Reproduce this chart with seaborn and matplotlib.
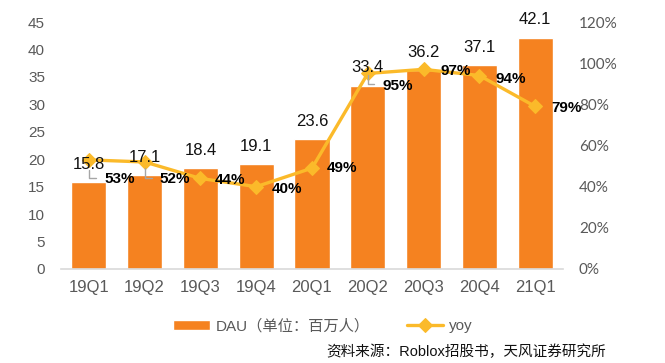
import numpy as np
import pandas as pd
import matplotlib
matplotlib.use("Agg")
import matplotlib.pyplot as plt
import matplotlib.transforms as mtransforms
from matplotlib.lines import Line2D
import seaborn as sns

quarters = ["19Q1", "19Q2", "19Q3", "19Q4", "20Q1", "20Q2", "20Q3", "20Q4", "21Q1"]
dau = [15.8, 17.1, 18.4, 19.1, 23.6, 33.4, 36.2, 37.1, 42.1]
yoy = [0.53, 0.52, 0.44, 0.40, 0.49, 0.95, 0.97, 0.94, 0.79]
yoy_labels = ["53%", "52%", "44%", "40%", "49%", "95%", "97%", "94%", "79%"]
left_ticks = [0, 5, 10, 15, 20, 25, 30, 35, 40, 45]
right_ticks = [0, 0.2, 0.4, 0.6, 0.8, 1.0, 1.2]
right_tick_labels = ["0%", "20%", "40%", "60%", "80%", "100%", "120%"]
bar_legend = "DAU（单位：百万人）"
line_legend = "yoy"
source = "资料来源：Roblox招股书，天风证券研究所"

sns.set_theme(style="white")
plt.rcParams["font.family"] = ["Liberation Sans", "Noto Sans CJK SC", "DejaVu Sans"]

BAR = "#F58220"
LINE = "#FBBA2A"
GRAY = "#595959"

fig = plt.figure(figsize=(6.65, 3.63), dpi=100)
ax = fig.add_axes([61 / 665, 1 - 269 / 363, (563 - 61) / 665, (269 - 22) / 363])

df = pd.DataFrame({"q": quarters, "dau": dau})
sns.barplot(data=df, x="q", y="dau", ax=ax, color=BAR, width=0.63, saturation=1,
            label=bar_legend, zorder=2)
if ax.get_legend() is not None:
    ax.get_legend().remove()
ax.set_ylim(0, 45)
ax.set_xlim(-0.5, len(quarters) - 0.5)
ax.set_yticks(left_ticks)
ax.set_xlabel("")
ax.set_ylabel("")
for s in ["top", "right", "left"]:
    ax.spines[s].set_visible(False)
ax.spines["bottom"].set_color("#D9D9D9")
ax.spines["bottom"].set_linewidth(1.2)
ax.tick_params(axis="y", labelsize=11, labelcolor=GRAY, length=0, pad=11.5)
ax.tick_params(axis="x", labelsize=12, labelcolor=GRAY, length=0, pad=8)

ax2 = ax.twinx()
pos = np.arange(len(quarters))
sns.lineplot(x=pos, y=yoy, ax=ax2, color=LINE, linewidth=2.4, marker="D",
             markersize=7, markeredgecolor=LINE, label=line_legend, legend=False, zorder=3)
ax2.set_ylim(0, 1.2)
ax2.set_xlim(-0.5, len(quarters) - 0.5)
ax2.set_yticks(right_ticks)
ax2.set_yticklabels(right_tick_labels, family=["Lato", "DejaVu Sans"])
ax2.set_ylabel("")
for s in ["top", "right", "left", "bottom"]:
    ax2.spines[s].set_visible(False)
ax2.tick_params(axis="y", labelsize=11, labelcolor=GRAY, length=0, pad=11.5)

# bar value labels (drawn on top axes so they sit above the line)
for i, v in enumerate(dau):
    ax2.annotate(f"{v:.1f}", xy=(i, v), xycoords=ax.transData, xytext=(0, 18),
                 textcoords="offset pixels", ha="center", va="center",
                 fontsize=12, color="#111111", zorder=5)

# percent labels, offsets in pixels (dx, dy)
offsets = [(16, -19), (15, -17), (14, -2), (16, -2), (15, 0), (15, -13), (17, -2), (16, -3), (16, -2)]
for i, (v, lab) in enumerate(zip(yoy, yoy_labels)):
    dx, dy = offsets[i]
    ax2.annotate(lab, xy=(i, v), xytext=(dx, dy), textcoords="offset pixels",
                 ha="left", va="center", fontsize=11, fontweight="bold", color="#000000", zorder=6)

# small gray leader lines (pixel offsets from the data point)
leaders = {0: (-10, -18, 7), 1: (-6, -16, 7), 5: (-2, -11, 6)}
for i, (ya, yb, xc) in leaders.items():
    trans = mtransforms.Affine2D() + mtransforms.ScaledTranslation(i, yoy[i], ax2.transData)
    ln = Line2D([0, 0, xc], [ya, yb, yb], transform=trans, color="#A6A6A6", lw=1, zorder=4)
    ax2.add_line(ln)

h1, l1 = ax.get_legend_handles_labels()
h2, l2 = ax2.get_legend_handles_labels()
fig.legend(h1 + h2, l1 + l2, loc="center", bbox_to_anchor=(323 / 665, 1 - 326 / 363),
           ncol=2, frameon=False, fontsize=11, handlelength=2.4, columnspacing=2.4,
           handletextpad=0.4, labelcolor=GRAY)

fig.text(606 / 665, 1 - 352 / 363, source, ha="right", va="center", fontsize=10.5, color="#111111")

fig.savefig("out.png", dpi=100)
